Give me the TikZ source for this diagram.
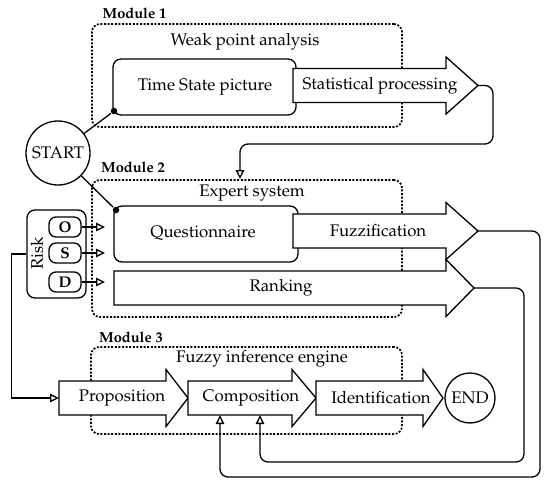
\documentclass[tikz,border=0pt]{standalone}
\usepackage[T1]{fontenc}
\usepackage{mathpazo}
\usetikzlibrary{arrows.meta}
\tikzset{
  mod/.style={draw, line width=1.7pt, dash pattern=on 2pt off 1.6pt, rounded corners=8pt, inner sep=0pt},
  rbox/.style={draw, rounded corners=8pt, inner sep=0pt, fill=white},
  txt/.style={font=\fontsize{16.8}{18}\selectfont, inner sep=0pt},
  lbl/.style={font=\bfseries\fontsize{14.6}{16}\selectfont, inner sep=0pt},
  pill/.style={draw, rounded corners=7pt, minimum width=32pt, minimum height=20pt, inner sep=0pt, font=\bfseries\fontsize{15.5}{16}\selectfont},
  dot/.style={circle, fill, inner sep=0pt, minimum size=6.5pt},
  ring/.style={circle, draw, inner sep=0pt, font=\fontsize{16.8}{18}\selectfont},
  oa/.style={-{Triangle[open,length=9pt,width=8.5pt]}},
  conn/.style={rounded corners=8pt}
}
\newcommand\bigarrow[7]{%
  \draw[fill=white] ({#2},{#5-17}) -- ({#3},{#5-17}) -- ({#3},{#5-28.5}) -- ({#4},{#5}) -- ({#3},{#5+28.5}) -- ({#3},{#5+17}) -- ({#2},{#5+17}) -- cycle;
  \coordinate (#1-tip) at ({#4},{#5});
  \coordinate (#1-left) at ({#2},{#5});
  \node[txt] (#1) at ({#6},{#5}) {#7};}
\begin{document}
\begin{tikzpicture}[x=1pt,y=-1pt,line width=1.3pt]
\useasboundingbox (0,0) rectangle (550,490);
% modules
\node[mod, minimum width=310pt, minimum height=103pt] (m1) at (247,75.5) {};
\node[mod, minimum width=310pt, minimum height=137pt] (m2) at (247,248.5) {};
\node[mod, minimum width=311pt, minimum height=87pt] (m3) at (246.5,390.5) {};
\node[lbl] (m1l) at (134.5,13) {Module 1};
\node[lbl] (m2l) at (133,167) {Module 2};
\node[lbl] (m3l) at (131,337) {Module 3};
\node[txt] (wpa) at (245,42) {Weak point analysis};
\node[txt] (es) at (252,193) {Expert system};
\node[txt] (fie) at (262,359) {Fuzzy inference engine};
% module 1
\node[rbox, minimum width=183pt, minimum height=56pt] (tsp) at (204.5,87) {};
\node[txt] (tspt) at (205,87) {Time State picture};
\bigarrow{sp}{293}{446}{478}{85.5}{380}{Statistical processing}
% module 2
\node[rbox, minimum width=184pt, minimum height=56pt] (qn) at (206,234) {};
\node[txt] (qnt) at (203,233) {Questionnaire};
\bigarrow{rk}{114}{446}{474}{288}{281}{Ranking}
\bigarrow{fz}{293}{446}{478}{231}{378}{Fuzzification}
% module 3
\bigarrow{pp}{59}{166}{188}{398}{122}{Proposition}
\bigarrow{cp}{188}{292}{316}{398}{251}{Composition}
\bigarrow{id}{316}{423}{443}{398}{381}{Identification}
\node[ring, minimum size=50pt] (end) at (470,398) {END};
% start
\node[ring, minimum size=64pt] (start) at (58,153) {START};
\node[dot] (d1) at (114,111) {};
\node[dot] (d2) at (116,210) {};
\draw (start) -- (d1);
\draw (start) -- (d2);
% risk
\node[rbox, minimum width=59pt, minimum height=88pt] (risk) at (56.5,254) {};
\node[txt, rotate=90] (riskt) at (37,253) {Risk};
\node[pill] (o) at (65,227) {O};
\node[pill] (s) at (65,253) {S};
\node[pill] (d) at (65,282) {D};
\coordinate (ot) at (105,227);
\coordinate (st) at (105,253);
\coordinate (dt) at (105,282);
\draw[oa] (o.east) -- (ot);
\draw[oa] (s.east) -- (st);
\draw[oa] (d.east) -- (dt);
\draw[oa] (risk.west) -- ++(-15,0) |- (pp-left);
% connectors
\coordinate (e1) at (240,179);
\draw[oa, conn] (sp-tip) -- (493,85.5) -- (493,144) -- (240,144) -- (e1);
\coordinate (c1) at (220,415);
\coordinate (c2) at (260,415);
\draw[oa, conn] (fz-tip) -- (540,231) -- (540,477) -- (220,477) -- (c1);
\draw[oa, conn] (rk-tip) -- (524,288) -- (524,462) -- (260,462) -- (c2);
\end{tikzpicture}
\end{document}
